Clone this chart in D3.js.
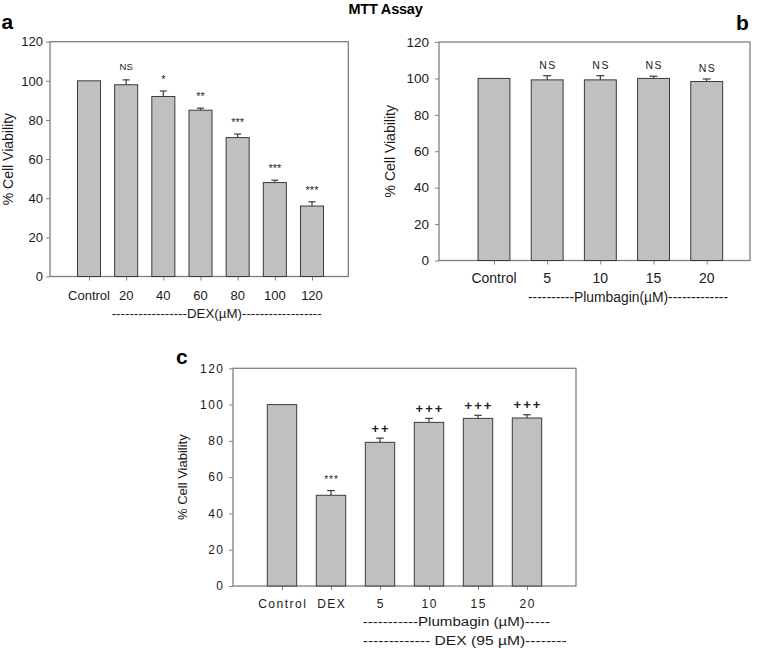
<!DOCTYPE html>
<html>
<head>
<meta charset="utf-8">
<script src="https://cdn.jsdelivr.net/npm/d3@7"></script>
<style>
  html, body { margin: 0; padding: 0; background: #fff; }
  svg { display: block; font-family: "Liberation Sans", Arial, sans-serif; }
</style>
</head>
<body>
<svg id="chart" width="761" height="648"></svg>
<script>
// ---- data ----
const yTicks = [0, 20, 40, 60, 80, 100, 120];

const catsA = ["Control", "20", "40", "60", "80", "100", "120"];
const valsA = [100, 98, 92, 85, 71, 48, 36];
const errA  = [0, 2.5, 2.8, 1.0, 1.8, 1.2, 2.2];
const sigA  = ["", "NS", "*", "**", "***", "***", "***"];

const catsB = ["Control", "5", "10", "15", "20"];
const valsB = [100, 99.2, 99.2, 100, 98.3];
const errB  = [0, 2.3, 2.3, 1.2, 1.4];
const sigB  = ["", "NS", "NS", "NS", "NS"];

const catsC = ["Control", "DEX", "5", "10", "15", "20"];
const valsC = [100, 50, 79.2, 90.2, 92.4, 92.6];
const errC  = [0, 2.6, 2.3, 2.2, 1.7, 1.8];
const sigC  = ["", "***", "++", "+++", "+++", "+++"];

const title = "MTT Assay";
const yLabel = "% Cell Viability";
const subA = "-----------------DEX(µM)------------------";
const subB = "----------Plumbagin(µM)-------------";
const subC1 = "-----------Plumbagin (µM)-----";
const subC2 = "------------- DEX (95 µM)--------";

// ---- drawing ----
const svg = d3.select("#chart");
const FRAME = "#808080";
const BAR = "#c0c0c0";
const BAR_STROKE = "#3a3a3a";
const TXT = "#1a1a1a";

function drawPanel(cfg) {
  const g = svg.append("g");
  const y = d3.scaleLinear().domain([0, 120]).range([cfg.bottom, cfg.top]);
  const x = d3.scalePoint().domain(cfg.cats).range(cfg.xRange);
  const bw = x.step() * cfg.barFrac;

  // y axis ticks
  const ya = g.append("g").attr("transform", `translate(${cfg.left},0)`)
    .call(d3.axisLeft(y).tickValues(yTicks).tickSize(4).tickPadding(cfg.yPad).tickFormat(d3.format("d")));
  ya.select(".domain").remove();
  ya.selectAll(".tick line").attr("stroke", FRAME);
  ya.selectAll(".tick text").attr("fill", TXT).attr("font-size", cfg.yFont)
    .attr("font-family", "Liberation Sans, Arial, sans-serif")
    .style("letter-spacing", cfg.ls + "px").attr("dx", cfg.ls);

  // x axis ticks
  const xa = g.append("g").attr("transform", `translate(0,${cfg.bottom})`)
    .call(d3.axisBottom(x).tickSize(4).tickFormat(""));
  xa.select(".domain").remove();
  xa.selectAll(".tick line").attr("stroke", FRAME);

  // frame
  g.append("rect").attr("x", cfg.left).attr("y", cfg.top)
    .attr("width", cfg.right - cfg.left).attr("height", cfg.bottom - cfg.top)
    .attr("fill", "none").attr("stroke", FRAME).attr("stroke-width", 1.3);

  const rows = cfg.cats.map((c, i) => ({ c, v: cfg.vals[i], e: cfg.errs[i], s: cfg.sigs[i] }));

  // bars
  g.selectAll("rect.bar").data(rows).join("rect").attr("class", "bar")
    .attr("x", d => x(d.c) - bw / 2).attr("width", bw)
    .attr("y", d => y(d.v)).attr("height", d => y(0) - y(d.v))
    .attr("fill", BAR).attr("stroke", BAR_STROKE).attr("stroke-width", 1);

  // error bars (upper only)
  const eb = rows.filter(d => d.e > 0);
  g.selectAll("line.err").data(eb).join("line").attr("class", "err")
    .attr("x1", d => x(d.c)).attr("x2", d => x(d.c))
    .attr("y1", d => y(d.v)).attr("y2", d => y(d.v + d.e))
    .attr("stroke", BAR_STROKE).attr("stroke-width", 1.2);
  g.selectAll("line.cap").data(eb).join("line").attr("class", "cap")
    .attr("x1", d => x(d.c) - cfg.cap).attr("x2", d => x(d.c) + cfg.cap)
    .attr("y1", d => y(d.v + d.e)).attr("y2", d => y(d.v + d.e))
    .attr("stroke", BAR_STROKE).attr("stroke-width", 1.2);

  // significance marks
  g.selectAll("text.sig").data(rows.filter(d => d.s)).join("text").attr("class", "sig")
    .attr("x", d => x(d.c)).attr("y", d => y(d.v + d.e) - cfg.sigOffset(d.s))
    .attr("text-anchor", "middle").attr("fill", "#222")
    .attr("font-size", d => cfg.sigFont(d.s))
    .attr("font-weight", d => d.s.startsWith("+") ? "bold" : "normal")
    .style("letter-spacing", d => cfg.sigLs(d.s) + "px")
    .attr("dx", d => cfg.sigLs(d.s) / 2)
    .text(d => d.s);

  // x labels
  g.selectAll("text.xl").data(cfg.cats).join("text").attr("class", "xl")
    .attr("x", d => x(d)).attr("y", cfg.xLabelY)
    .attr("text-anchor", "middle").attr("fill", TXT).attr("font-size", cfg.xFont)
    .style("letter-spacing", cfg.ls + "px").attr("dx", cfg.ls / 2)
    .text(d => d);

  // subtitles (dashed group labels)
  cfg.subs.forEach(s => {
    g.append("text").attr("x", s.x0).attr("y", s.y)
      .attr("textLength", s.x1 - s.x0).attr("lengthAdjust", "spacingAndGlyphs")
      .attr("fill", TXT).attr("font-size", s.font).text(s.text);
  });

  // y axis title
  g.append("text")
    .attr("transform", `translate(${cfg.yTitleX},${(cfg.top + cfg.bottom) / 2 + cfg.yTitleDy}) rotate(-90)`)
    .attr("text-anchor", "middle").attr("fill", TXT).attr("font-size", cfg.yTitleFont)
    .text(yLabel);

  // panel letter
  g.append("text").attr("x", cfg.letter.x).attr("y", cfg.letter.y)
    .attr("font-size", 21).attr("font-weight", "bold").attr("fill", "#000")
    .text(cfg.letter.t);
}

// title
svg.append("text").attr("x", 385.5).attr("y", 13.5).attr("text-anchor", "middle")
  .attr("font-size", 14.5).attr("font-weight", "bold").attr("fill", "#000")
  .style("letter-spacing", "-0.2px").text(title);

drawPanel({
  cats: catsA, vals: valsA, errs: errA, sigs: sigA,
  left: 50, right: 348.3, top: 41.7, bottom: 276.5, xRange: [89, 312],
  barFrac: 0.62, cap: 3.5, yPad: 3, yFont: 13, xFont: 13, ls: 0,
  sigOffset: s => s === "NS" ? 9.5 : 8,
  sigFont: s => s === "NS" ? 9.5 : 11, sigLs: s => 0,
  xLabelY: 299.5,
  subs: [{ text: subA, x0: 111.7, x1: 321.7, y: 317.5, font: 13 }],
  yTitleX: 12.5, yTitleDy: 0, yTitleFont: 14,
  letter: { t: "a", x: 1.5, y: 28.5 }
});

drawPanel({
  cats: catsB, vals: valsB, errs: errB, sigs: sigB,
  left: 439, right: 750, top: 42, bottom: 260.5, xRange: [494, 706.7],
  barFrac: 0.6, cap: 4, yPad: 6, yFont: 13.5, xFont: 14, ls: 0,
  sigOffset: s => 7,
  sigFont: s => 10.5, sigLs: s => 1.5,
  xLabelY: 282.5,
  subs: [{ text: subB, x0: 528, x1: 728, y: 302, font: 14 }],
  yTitleX: 394.5, yTitleDy: 0, yTitleFont: 14,
  letter: { t: "b", x: 736, y: 30 }
});

drawPanel({
  cats: catsC, vals: valsC, errs: errC, sigs: sigC,
  left: 233, right: 576, top: 368.3, bottom: 586, xRange: [282, 527],
  barFrac: 0.6, cap: 3.8, yPad: 6, yFont: 12, xFont: 12, ls: 1.5,
  sigOffset: s => s === "***" ? 7.5 : 5.5,
  sigFont: s => s === "***" ? 10 : 13, sigLs: s => s === "***" ? 1 : 2,
  xLabelY: 608,
  subs: [
    { text: subC1, x0: 362.7, x1: 550, y: 626, font: 12 },
    { text: subC2, x0: 362.7, x1: 566.7, y: 645, font: 12 }
  ],
  yTitleX: 186.5, yTitleDy: 0, yTitleFont: 13,
  letter: { t: "c", x: 176, y: 363.5 }
});
</script>
</body>
</html>
